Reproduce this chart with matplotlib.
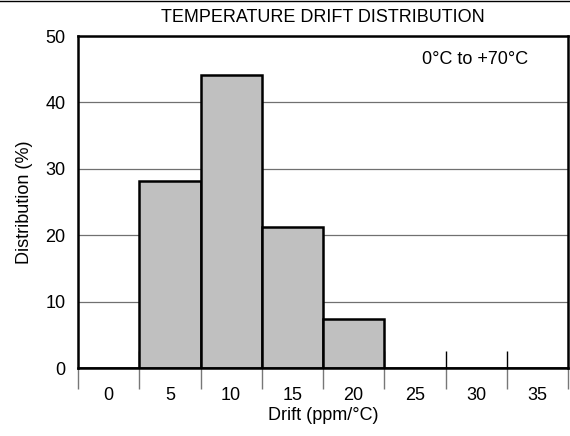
import numpy as np
import matplotlib.pyplot as plt
from matplotlib.lines import Line2D

plt.rcParams['font.family'] = ['Liberation Sans', 'DejaVu Sans']

drift_labels = ['0', '5', '10', '15', '20', '25', '30', '35']
distribution = [0, 28.1, 44.1, 21.2, 7.4, 0, 0, 0]

fig = plt.figure(figsize=(5.7, 4.36), dpi=100)
ax = fig.add_axes([78 / 570, 1 - 368 / 436, 490 / 570, 332 / 436])

x = np.arange(len(drift_labels))
ax.bar(x, distribution, width=1.0, color='#c0c0c0', edgecolor='black',
       linewidth=1.8, zorder=2)

ax.set_xlim(-0.5, len(drift_labels) - 0.5)
ax.set_ylim(0, 50)
ax.set_yticks([0, 10, 20, 30, 40, 50])
ax.grid(axis='y', color='#707070', linewidth=0.9, zorder=0)
ax.set_axisbelow(True)

# labels centred in cells, gray ticks at cell boundaries below the axis
bounds = np.arange(len(drift_labels) + 1) - 0.5
ax.set_xticks(bounds)
ax.set_xticklabels([])
ax.tick_params(axis='x', which='major', direction='out', length=15,
               color='#777777', width=1)
ax.set_xticks(x, minor=True)
ax.set_xticklabels(drift_labels, minor=True)
ax.tick_params(axis='x', which='minor', length=0, pad=14, labelsize=13)
ax.tick_params(axis='y', length=0, pad=9, labelsize=13)

# short black inside ticks (hidden behind bars)
sec = ax.secondary_xaxis('bottom')
sec.set_xticks(bounds[1:-1])
sec.set_xticklabels([])
sec.tick_params(direction='in', length=12.5, color='black', width=1)
sec.spines['bottom'].set_visible(False)
sec.set_zorder(0)

for s in ax.spines.values():
    s.set_linewidth(1.8)

ax.set_xlabel('Drift (ppm/°C)', fontsize=13, labelpad=2)
ax.set_ylabel('Distribution (%)', fontsize=13, labelpad=9)
ax.text(0.918, 0.928, '0°C to +70°C', transform=ax.transAxes, ha='right',
        va='center', fontsize=13)

fig.text(323 / 570, 1 - 17 / 436, 'TEMPERATURE DRIFT DISTRIBUTION',
         ha='center', va='center', fontsize=13)
fig.add_artist(Line2D([0, 1], [0.998, 0.998], transform=fig.transFigure,
                      color='black', linewidth=1))

fig.savefig('out.png', dpi=100)
